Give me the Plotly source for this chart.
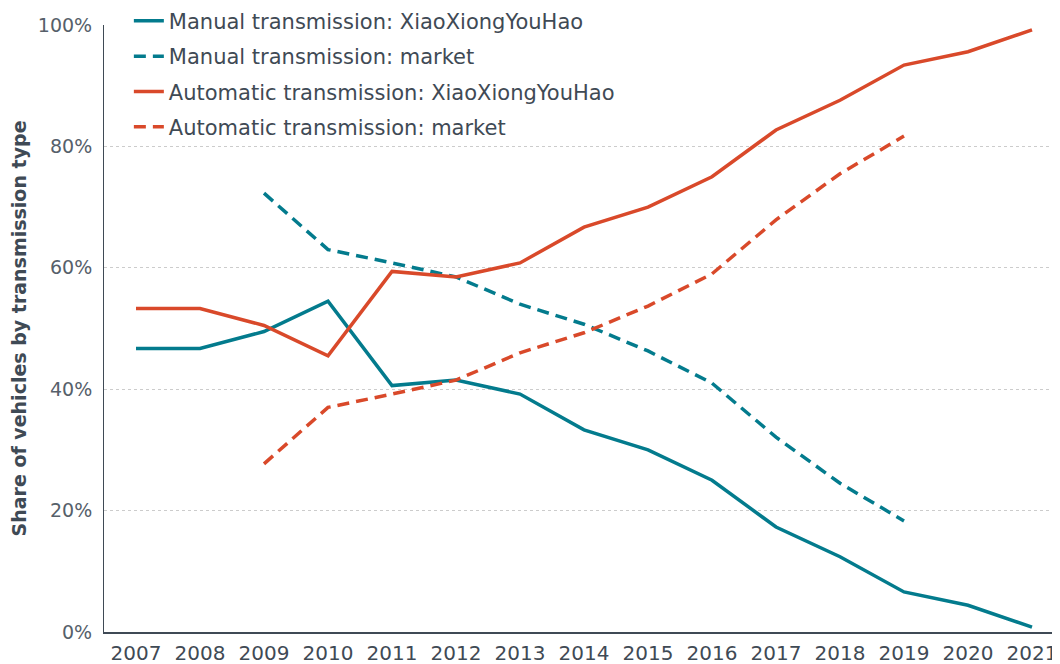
import plotly.graph_objects as go

years = list(range(2007, 2022))
market_years = list(range(2009, 2020))

manual_xxyh = [46.7, 46.7, 49.5, 54.5, 40.6, 41.5, 39.2, 33.3, 30.0, 25.0, 17.3, 12.4, 6.6, 4.4, 0.8]
auto_xxyh = [53.3, 53.3, 50.5, 45.5, 59.4, 58.5, 60.8, 66.7, 70.0, 75.0, 82.7, 87.6, 93.4, 95.6, 99.2]
manual_market = [72.3, 63.0, 60.8, 58.5, 54.0, 50.7, 46.3, 41.0, 32.1, 24.5, 18.3]
auto_market = [27.7, 37.0, 39.2, 41.5, 46.0, 49.3, 53.7, 59.0, 67.9, 75.5, 81.7]

names = [
    "Manual transmission: XiaoXiongYouHao",
    "Manual transmission: market",
    "Automatic transmission: XiaoXiongYouHao",
    "Automatic transmission: market",
]

TEAL = "#037b8d"
RED = "#d9492a"
TEXT = "#3f4a55"
FONT = "DejaVu Sans"

fig = go.Figure()
series = [
    (years, manual_xxyh, TEAL, "solid"),
    (market_years, manual_market, TEAL, "12px,7px"),
    (years, auto_xxyh, RED, "solid"),
    (market_years, auto_market, RED, "12px,7px"),
]
for i, ((xs, ys, col, dash), nm) in enumerate(zip(series, names)):
    fig.add_trace(go.Scatter(
        x=xs, y=ys, name=nm, mode="lines",
        line=dict(color=col, width=3.5, dash=dash),
        legendgroup=f"g{i}",
    ))

# page has an 8px body margin; figure sized so plot area lands where the reference has it
fig.update_layout(
    width=1052, height=656,
    margin=dict(l=96, r=0, t=17, b=32, autoexpand=False),
    paper_bgcolor="white", plot_bgcolor="white",
    font=dict(family=FONT, color=TEXT),
    showlegend=True,
    legend=dict(
        x=0.026, y=1.04, xanchor="left", yanchor="top",
        bgcolor="rgba(0,0,0,0)", borderwidth=0,
        font=dict(family=FONT, size=21, color=TEXT),
        tracegroupgap=5,
        traceorder="grouped",
    ),
    shapes=[dict(
        type="rect", xref="paper", yref="paper",
        x0=0.004, x1=0.561, y0=0.99, y1=1.01,
        fillcolor="white", line=dict(width=0), layer="between",
    )],
)

fig.update_xaxes(
    range=[2006.5, 2021.4375], automargin=False,
    tickmode="array", tickvals=years, ticktext=[str(y) for y in years],
    showgrid=False, zeroline=False,
    showline=True, linecolor=TEXT, linewidth=1.5,
    ticks="", ticklabelstandoff=2,
    tickfont=dict(family=FONT, size=20, color=TEXT),
)
fig.update_yaxes(
    range=[0, 100], automargin=False,
    tickmode="array", tickvals=[0, 20, 40, 60, 80, 100],
    ticktext=["0%", "20%", "40%", "60%", "80%", "100%"],
    showgrid=True, gridcolor="#cccccc", gridwidth=1, griddash="dot",
    zeroline=False,
    showline=True, linecolor=TEXT, linewidth=1,
    ticks="", ticklabelstandoff=7,
    tickfont=dict(family=FONT, size=19, color="#56606a"),
    title=dict(text="Share of vehicles by transmission type", standoff=12,
               font=dict(family=FONT, size=19, color=TEXT, weight="bold")),
)

fig.write_html("out.html")
